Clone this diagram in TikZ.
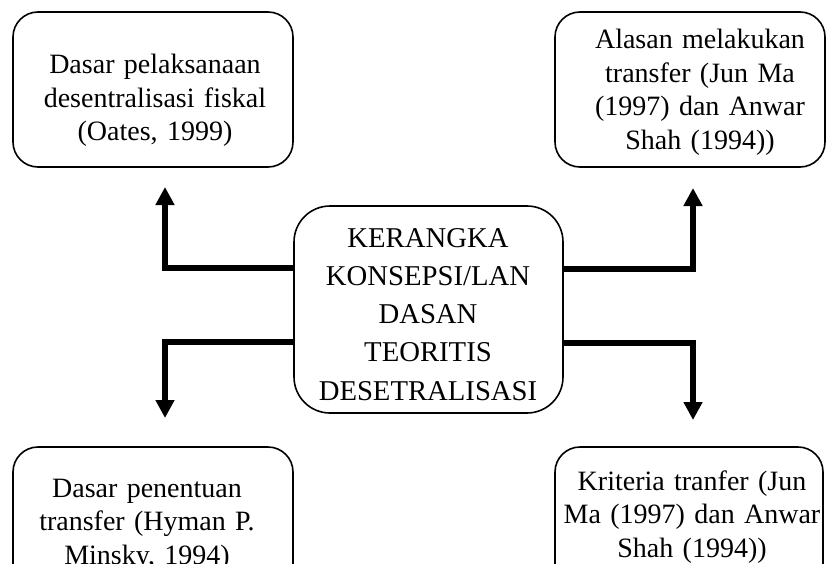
\documentclass[tikz,border=0pt]{standalone}
\usepackage{fontspec}
\setmainfont{Liberation Serif}
\usetikzlibrary{arrows.meta}
\begin{document}
\begin{tikzpicture}[x=1pt,y=-1pt,
  sidebox/.style={draw=black,line width=1.6pt,rounded corners=25pt,inner sep=0pt},
  midbox/.style={draw=black,line width=1.6pt,rounded corners=36pt,inner sep=0pt},
  sidetext/.style={anchor=base,inner sep=0pt,text width=300pt,align=center,
    font=\fontsize{28}{33.5}\selectfont},
  midtext/.style={anchor=base,inner sep=0pt,text width=300pt,align=center,
    font=\fontsize{28.7}{38.25}\selectfont},
  conn/.style={line width=6pt,line join=miter,-{Triangle[width=18pt,length=18pt]}}
]
\clip (0,0) rectangle (826,564);
% boxes
\node[sidebox,minimum width=280pt,minimum height=155pt] (tl) at (153,89.5) {};
\node[sidebox,minimum width=270pt,minimum height=155pt] (tr) at (690,89.5) {};
\node[sidebox,minimum width=280pt,minimum height=155pt] (bl) at (153,524.5) {};
\node[sidebox,minimum width=268pt,minimum height=155pt] (br) at (689,524.5) {};
\node[midbox,minimum width=269pt,minimum height=207pt] (c) at (428.5,309.5) {};
% texts
\node[sidetext] (tlt) at (155,74) {Dasar pelaksanaan\\desentralisasi fiskal\\(Oates, 1999)};
\node[sidetext] (trt) at (700,49) {Alasan melakukan\\transfer (Jun Ma\\(1997) dan Anwar\\Shah (1994))};
\node[sidetext] (blt) at (147,497) {Dasar penentuan\\transfer (Hyman P.\\Minsky, 1994)};
\node[sidetext] (brt) at (692,490) {Kriteria tranfer (Jun\\Ma (1997) dan Anwar\\Shah (1994))};
\node[midtext] (ct) at (428,247) {KERANGKA\\KONSEPSI/LAN\\DASAN\\TEORITIS\\DESETRALISASI};
% connector corners and tips
\coordinate (ulc) at (165,268);
\coordinate (ult) at (165,187);
\coordinate (llc) at (165,342);
\coordinate (llt) at (165,418);
\coordinate (urc) at (693,269);
\coordinate (urt) at (693,188);
\coordinate (lrc) at (693,343);
\coordinate (lrt) at (693,420);
\draw[conn] (c.west |- ulc) -- (ulc) -- (ult);
\draw[conn] (c.west |- llc) -- (llc) -- (llt);
\draw[conn] (c.east |- urc) -- (urc) -- (urt);
\draw[conn] (c.east |- lrc) -- (lrc) -- (lrt);
\end{tikzpicture}
\end{document}
